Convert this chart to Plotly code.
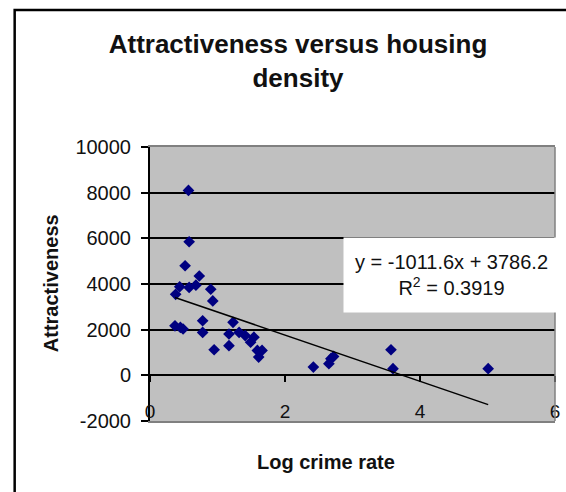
import numpy as np
import plotly.graph_objects as go

# Data
log_crime_rate = [0.57, 0.58, 0.52, 0.73, 0.44, 0.58, 0.68, 0.90, 0.38, 0.93,
                  0.37, 0.45, 0.49, 0.78, 0.78, 0.95, 1.23, 1.17, 1.17, 1.32,
                  1.41, 1.54, 1.49, 1.59, 1.66, 1.61, 2.42, 2.65, 2.68, 2.72,
                  3.57, 3.60, 5.01]
attractiveness = [8100, 5850, 4800, 4350, 3880, 3850, 3950, 3770, 3550, 3260,
                  2170, 2100, 2030, 2390, 1880, 1120, 2320, 1810, 1300, 1880,
                  1740, 1670, 1450, 1090, 1090, 800, 360, 510, 730, 830,
                  1120, 290, 290]

trend_slope = -1011.6
trend_intercept = 3786.2
r_squared = 0.3919

y_tick_vals = [-2000, 0, 2000, 4000, 6000, 8000, 10000]
y_tick_text = ["-2000", "0", "2000", "4000", "6000", "8000", "10000"]
x_tick_vals = [0, 2, 4, 6]
x_tick_text = ["0", "2", "4", "6"]

title_text = "Attractiveness versus housing<br>density"
x_title = "Log crime rate"
y_title = "Attractiveness"

FONT = "Liberation Sans, Arial, sans-serif"
TXT = "#111111"

W, H = 566, 492
L, R, T, B = 150, 6, 147, 71
PW, PH = W - L - R, H - T - B


def px(xp):
    return (xp - L) / PW


def py(yp):
    return (H - B - yp) / PH


fig = go.Figure()

fig.add_trace(go.Scatter(
    x=log_crime_rate, y=attractiveness, mode="markers",
    marker=dict(symbol="diamond", size=9, color="#000080", line=dict(width=0)),
    showlegend=False, hoverinfo="skip"))

tx = np.array([min(log_crime_rate), max(log_crime_rate)])
fig.add_trace(go.Scatter(
    x=tx, y=trend_slope * tx + trend_intercept, mode="lines",
    line=dict(color="black", width=1.5), showlegend=False, hoverinfo="skip"))

# dummy trace to carry the tick axis at y=0
fig.add_trace(go.Scatter(x=[None], y=[None], xaxis="x2", mode="markers",
                         showlegend=False, hoverinfo="skip"))

fig.update_layout(
    width=W, height=H,
    margin=dict(l=L, r=R, t=T, b=B),
    paper_bgcolor="white",
    plot_bgcolor="#C0C0C0",
    font=dict(family=FONT, color=TXT),
    title=dict(text=f"<b>{title_text}</b>", x=298 / W, xanchor="center",
               y=(H - 53) / H, yanchor="top", yref="container",
               font=dict(size=26, color=TXT, family=FONT)),
    xaxis=dict(range=[0, 6], tickvals=x_tick_vals, ticktext=x_tick_text,
               showgrid=False, zeroline=False,
               showline=True, linecolor="#808080", linewidth=1.5, mirror=True,
               ticks="", ticklabelposition="inside", ticklabeloverflow="allow",
               tickfont=dict(size=19, color=TXT)),
    xaxis2=dict(range=[0, 6], overlaying="x", anchor="free",
                position=2000 / 12000, tickvals=x_tick_vals,
                showticklabels=False, ticks="outside", ticklen=6,
                tickcolor="black", tickwidth=1.5, showgrid=False,
                zeroline=False, showline=False),
    yaxis=dict(range=[-2000, 10000], tickvals=y_tick_vals, ticktext=y_tick_text,
               showgrid=True, gridcolor="black", gridwidth=2,
               zeroline=True, zerolinecolor="black", zerolinewidth=2,
               showline=True, linecolor="black", linewidth=2,
               ticks="outside", ticklen=7, tickcolor="black", tickwidth=2,
               ticklabelstandoff=6,
               tickfont=dict(size=20, color=TXT)),
    annotations=[
        dict(text=f"<b>{y_title}</b>", textangle=-90, xref="paper", yref="paper",
             x=px(50), y=py(283), xanchor="center",
             yanchor="middle", showarrow=False,
             font=dict(size=20, color=TXT, family=FONT)),
        dict(text=f"<b>{x_title}</b>", xref="paper", yref="paper",
             x=px(328), y=py(462), xanchor="center",
             yanchor="middle", showarrow=False,
             font=dict(size=20, color=TXT, family=FONT)),
        dict(text=f"y = {trend_slope}x + {trend_intercept}<br>R<sup>2</sup> = {r_squared}",
             xref="paper", yref="paper",
             x=px(455), y=py(275), xanchor="center",
             yanchor="middle", showarrow=False, align="center",
             bgcolor="white", borderpad=4, width=207, height=66,
             font=dict(size=20, color=TXT, family=FONT)),
    ],
    shapes=[
        dict(type="line", xref="paper", yref="paper", x0=1, x1=1, y0=0, y1=1,
             line=dict(color="#808080", width=1.5)),
        dict(type="rect", xref="paper", yref="paper",
             x0=px(13), x1=px(640), y0=py(600), y1=py(10),
             line=dict(color="black", width=2.5), fillcolor="rgba(0,0,0,0)"),
    ],
)

fig.write_html("out.html", config={"displayModeBar": False},
               post_script="document.body.style.margin='0';document.body.style.overflow='hidden';")
